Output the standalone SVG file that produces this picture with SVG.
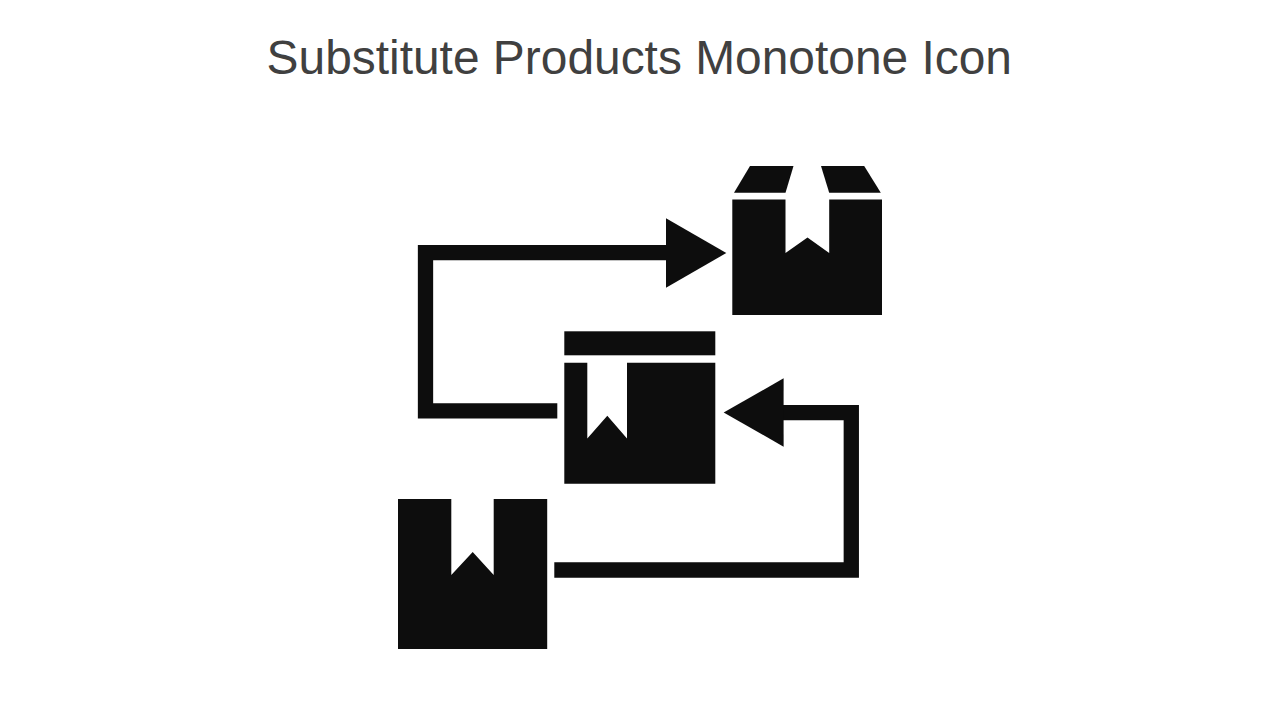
<svg xmlns="http://www.w3.org/2000/svg" width="1280" height="720" viewBox="0 0 1280 720">
<style>
.ink{fill:#0d0d0d;stroke:none}
.line{fill:none;stroke:#0d0d0d;stroke-width:15.3;stroke-linejoin:miter}
.title{font-family:"Liberation Sans",Arial,sans-serif;font-size:47.9px;fill:#404040;text-anchor:middle}
</style>
<rect width="1280" height="720" fill="#ffffff"/>
<text id="title" class="title" x="639.3" y="74">Substitute Products Monotone Icon</text>
<g id="connectors">
<polyline class="line" points="557.3,410.8 425.5,410.8 425.5,252.7 670,252.7"/>
<polygon class="ink" points="666,218.3 726.3,253 666,287.7"/>
<polyline class="line" points="554.3,570 851.3,570 851.3,412.7 780,412.7"/>
<polygon class="ink" points="783.6,378.3 723.7,412.5 783.6,446.7"/>
</g>
<g id="box-top">
<polygon class="ink" points="734,192.7 750,166 793.5,166 785.5,192.7"/>
<polygon class="ink" points="821,166 864.2,166 880.8,192.7 829.2,192.7"/>
<polygon class="ink" points="732.3,199.4 785.5,199.4 785.5,253 807.5,237.5 829.2,253 829.2,199.4 882,199.4 882,315 732.3,315"/>
</g>
<g id="box-middle">
<rect class="ink" x="564.3" y="331.3" width="151" height="24"/>
<polygon class="ink" points="564.3,362.7 587.3,362.7 587.3,438.5 607.3,415.7 627,438.5 627,362.7 715.3,362.7 715.3,483.7 564.3,483.7"/>
</g>
<g id="box-bottom">
<polygon class="ink" points="398,499 451.3,499 451.3,575 472.7,552 493.7,575 493.7,499 547.2,499 547.2,649 398,649"/>
</g>
</svg>
